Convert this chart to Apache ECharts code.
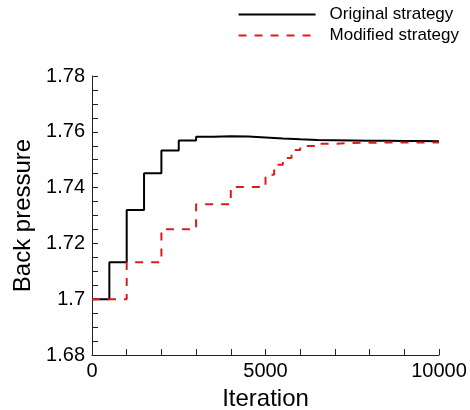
<!DOCTYPE html>
<html>
<head>
<meta charset="utf-8">
<script src="https://cdn.jsdelivr.net/npm/echarts@6/dist/echarts.min.js"></script>
<style>html,body{margin:0;padding:0;background:#fff}#c{width:470px;height:410px}</style>
</head>
<body>
<div id="c"></div>
<script>
var originalX = [0, 500, 1000, 1500, 2000, 2500, 3000, 3500, 4000, 4500, 5000, 5500, 6000, 6500, 7000, 7500, 8000, 8500, 9000, 9500, 10000];
var originalY = [1.700, 1.7132, 1.732, 1.7451, 1.7533, 1.7569, 1.7582, 1.7584, 1.7583, 1.7580, 1.7576, 1.7573, 1.7571, 1.7570, 1.7569, 1.7568, 1.7568, 1.7567, 1.7567, 1.7566, 1.7566];
var modifiedX = [0, 1000, 2000, 3000, 4000, 5000, 5250, 5500, 5750, 6000, 6500, 7000, 7500, 8000, 10000];
var modifiedY = [1.700, 1.7132, 1.7251, 1.734, 1.7402, 1.7446, 1.7482, 1.7506, 1.7535, 1.7549, 1.7557, 1.7560, 1.7561, 1.7562, 1.7562];
var seriesNames = ['Original strategy', 'Modified strategy'];
var xAxisTitle = 'Iteration';
var yAxisTitle = 'Back pressure';

function pairs(xs, ys) { return xs.map(function (x, i) { return [x, ys[i]]; }); }

var FONT = '"Liberation Sans", Arial, sans-serif';
var chart = echarts.init(document.getElementById('c'), null, { renderer: 'canvas' });
chart.setOption({
  animation: false,
  backgroundColor: '#fff',
  textStyle: { fontFamily: FONT },
  grid: { left: 92, right: 31, top: 76, bottom: 55, outerBoundsMode: 'none', containLabel: false },
  legend: {
    orient: 'vertical', right: 6, top: 1, itemWidth: 77, itemHeight: 10, itemGap: 4,
    itemStyle: { opacity: 0 },
    textStyle: { fontFamily: FONT, fontSize: 17, color: '#000', padding: [0, 0, 0, 9] },
    data: seriesNames
  },
  xAxis: {
    type: 'value', min: 0, max: 10000, interval: 5000,
    name: xAxisTitle, nameLocation: 'middle', nameGap: 32,
    nameTextStyle: { fontFamily: FONT, fontSize: 24, color: '#000' },
    axisLine: { lineStyle: { color: '#222', width: 1 } },
    axisTick: { inside: true, length: 6, lineStyle: { color: '#222' } },
    minorTick: { show: true, splitNumber: 5, length: 6, lineStyle: { color: '#222' } },
    axisLabel: { fontFamily: FONT, fontSize: 20, color: '#000', margin: 6,
      formatter: function (v) { return String(v); } },
    splitLine: { show: false }
  },
  yAxis: {
    type: 'value', min: 1.68, max: 1.78, interval: 0.02,
    name: yAxisTitle, nameLocation: 'middle', nameGap: 56,
    nameTextStyle: { fontFamily: FONT, fontSize: 24, color: '#000' },
    axisLine: { show: true, lineStyle: { color: '#222', width: 1 } },
    axisTick: { show: true, inside: true, length: 6, lineStyle: { color: '#222' } },
    minorTick: { show: true, splitNumber: 4, length: 6, lineStyle: { color: '#222' } },
    axisLabel: { fontFamily: FONT, fontSize: 20, color: '#000', margin: 7,
      formatter: function (v) { return String(parseFloat(v.toFixed(2))); } },
    splitLine: { show: false }
  },
  series: [
    {
      name: seriesNames[0], type: 'line', step: 'end', symbol: 'none',
      data: pairs(originalX, originalY),
      lineStyle: { color: '#000', width: 2 }, itemStyle: { color: '#000' }, z: 2
    },
    {
      name: seriesNames[1], type: 'line', step: 'end', symbol: 'none',
      data: pairs(modifiedX, modifiedY),
      lineStyle: { color: '#dd1c1c', width: 2, type: [8, 8] }, itemStyle: { color: '#dd1c1c' }, z: 3
    }
  ]
});
</script>
</body>
</html>
